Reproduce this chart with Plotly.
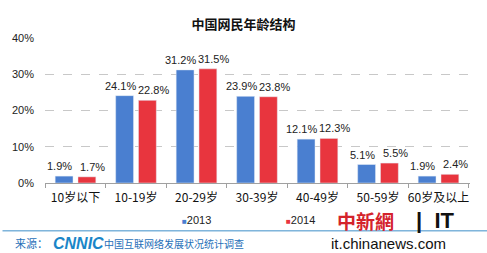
import plotly.graph_objects as go

categories = ["10岁以下", "10-19岁", "20-29岁", "30-39岁", "40-49岁", "50-59岁", "60岁及以上"]
values_2013 = [1.9, 24.1, 31.2, 23.9, 12.1, 5.1, 1.9]
values_2014 = [1.7, 22.8, 31.5, 23.8, 12.3, 5.5, 2.4]
series_names = ["2013", "2014"]
y_ticks = [0, 10, 20, 30, 40]
y_tick_labels = ["0%", "10%", "20%", "30%", "40%"]

FONT = "Liberation Sans, Arial, Noto Sans CJK SC, sans-serif"
CJK = "Noto Sans CJK SC, sans-serif"
BLUE = "#4a7fd0"
RED = "#e8353e"

fig = go.Figure()
for name, vals, col, shift in [(series_names[0], values_2013, BLUE, -16),
                               (series_names[1], values_2014, RED, 17)]:
    fig.add_trace(go.Bar(x=categories, y=vals, name=name, marker_color=col, showlegend=False))
    for c, v in zip(categories, vals):
        fig.add_annotation(x=c, y=v, xref="x", yref="y", text=f"{v}%", showarrow=False,
                           xshift=shift, yshift=2, yanchor="bottom", xanchor="center",
                           font=dict(size=11, color="#222", family=FONT))

fig.update_layout(
    width=487, height=253,
    margin=dict(l=42, r=17, t=38, b=70),
    paper_bgcolor="white", plot_bgcolor="white",
    barmode="group", bargap=0.246, bargroupgap=0.217,
    font=dict(family=FONT, size=11, color="#222"),
    title=dict(text="<b>中国网民年龄结构</b>", x=0.5, xanchor="center", y=0.905, yanchor="middle",
               font=dict(size=13, family=CJK, color="#111")),
    showlegend=False,
    xaxis=dict(showline=True, linecolor="#a0a0a0", linewidth=1, ticks="outside",
               tickson="boundaries", ticklen=4, tickcolor="#a0a0a0", tickangle=0,
               ticklabelstandoff=4,
               tickfont=dict(size=12, family=CJK, color="#111")),
    yaxis=dict(range=[0, 40], tickvals=y_ticks, ticktext=y_tick_labels, showgrid=True,
               gridcolor="#c8c8c8", griddash="dash", gridwidth=1, zeroline=False,
               tickfont=dict(size=11, family=FONT, color="#222"), ticklabelstandoff=10),
)

# legend drawn as annotations (small squares + year)
for name, col, px in [(series_names[0], BLUE, 178), (series_names[1], RED, 283)]:
    fig.add_annotation(x=(px - 42) / 428, y=-0.255, xref="paper", yref="paper",
                       xanchor="left", yanchor="middle", showarrow=False,
                       text=f"<span style='color:{col};font-size:8px'>■</span>{name}",
                       font=dict(size=11, family=FONT, color="#222"))

# bottom source bar and logos
fig.add_shape(type="line", xref="paper", yref="paper", x0=-0.1, x1=1.1, y0=-0.33, y1=-0.33,
              line=dict(color="#3d8fc9", width=1))
fig.add_annotation(x=-0.075, y=-0.415, xref="paper", yref="paper", xanchor="left", yanchor="middle",
                   showarrow=False, text="来源：",
                   font=dict(size=11, family=CJK, color="#1f6fb8"))
fig.add_annotation(x=0.013, y=-0.415, xref="paper", yref="paper", xanchor="left", yanchor="middle",
                   showarrow=False, text="<b><i>CNNIC</i></b>",
                   font=dict(size=16, family="Liberation Sans", color="#1a86c8"))
fig.add_annotation(x=0.135, y=-0.415, xref="paper", yref="paper", xanchor="left", yanchor="middle",
                   showarrow=False, text="中国互联网络发展状况统计调查",
                   font=dict(size=10, family=CJK, color="#1f6fb8"))
fig.add_annotation(x=0.685, y=-0.26, xref="paper", yref="paper", xanchor="left", yanchor="middle",
                   showarrow=False, text="<b>中新網</b>", borderpad=0,
                   font=dict(size=19, family=CJK, color="#d4232b"))
fig.add_annotation(x=0.87, y=-0.26, xref="paper", yref="paper", xanchor="left", yanchor="middle",
                   showarrow=False, text="<b>|  IT</b>", borderpad=0,
                   font=dict(size=22, family="Liberation Sans", color="#111"))
fig.add_annotation(x=0.67, y=-0.42, xref="paper", yref="paper", xanchor="left", yanchor="middle",
                   showarrow=False, text="it.chinanews.com", borderpad=0,
                   font=dict(size=15, family="Liberation Sans", color="#111"))

fig.write_html("out.html")
